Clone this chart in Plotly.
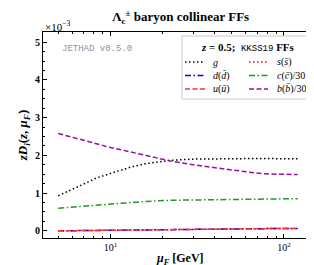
import plotly.graph_objects as go

mu = [5, 6, 7, 8.4, 10, 13.1, 16, 22.2, 30, 39.6, 50, 61.7, 76.6, 95, 120]
g_vals = [0.93, 1.09, 1.24, 1.41, 1.52, 1.69, 1.78, 1.87, 1.90, 1.91, 1.92, 1.92, 1.92, 1.91, 1.91]
s_vals = [0.00, 0.005, 0.01, 0.015, 0.02, 0.025, 0.03, 0.038, 0.043, 0.048, 0.052, 0.055, 0.058, 0.061, 0.063]
d_vals = [0.00, 0.005, 0.01, 0.015, 0.02, 0.025, 0.03, 0.038, 0.043, 0.048, 0.052, 0.055, 0.058, 0.061, 0.063]
u_vals = [0.00, 0.005, 0.01, 0.015, 0.02, 0.025, 0.03, 0.038, 0.043, 0.048, 0.052, 0.055, 0.058, 0.061, 0.063]
c_vals = [0.60, 0.63, 0.66, 0.69, 0.72, 0.76, 0.78, 0.81, 0.82, 0.83, 0.84, 0.845, 0.85, 0.85, 0.853]
b_vals = [2.58, 2.48, 2.39, 2.29, 2.21, 2.09, 2.00, 1.85, 1.75, 1.67, 1.61, 1.56, 1.51, 1.50, 1.49]
x_tick_vals = [10, 100]
x_tick_text = ["10<sup>1</sup>", "10<sup>2</sup>"]
y_tick_vals = [0, 1, 2, 3, 4, 5]

DOT = "1.5px,2.5px"
DASH = "5px,2.5px"
DASHDOT = "6px,2.5px,1.5px,2.5px"

series = [
    ("<i>g</i>", g_vals, "black", DOT),
    ("<i>s</i>(<i>s̄</i>)", s_vals, "red", DOT),
    ("<i>d</i>(<i>d̄</i>)", d_vals, "blue", DASHDOT),
    ("<i>c</i>(<i>c̄</i>)/30", c_vals, "#1f9a1f", DASHDOT),
    ("<i>u</i>(<i>ū</i>)", u_vals, "#ff3030", DASH),
    ("<i>b</i>(<i>b̄</i>)/30", b_vals, "#9a109a", DASH),
]

SERIF = "Liberation Serif"
fig = go.Figure()
for name, vals, col, dash in series:
    fig.add_trace(go.Scatter(x=mu, y=vals, mode="lines", name=name,
                             line=dict(color=col, dash=dash, width=1.5)))

W, H = 314, 265
ML, MR, MT, MB = 35, 7, 24, 35
PW, PH = W - ML - MR, H - MT - MB


def px_x(px):
    return (px - ML) / PW


def px_y(py):
    return (H - MB - py) / PH


fig.update_layout(
    width=W, height=H,
    margin=dict(l=ML, r=MR, t=MT, b=MB),
    plot_bgcolor="white", paper_bgcolor="white",
    font=dict(family=SERIF, size=10, color="black"),
    title=dict(text="<b>Λ<sub>c</sub><sup>±</sup> baryon collinear FFs</b>",
               xref="container", x=0.55, xanchor="center", y=0.985, yanchor="top",
               font=dict(family=SERIF, size=13)),
    showlegend=False,
)

fig.update_xaxes(
    type="log", range=[0.611, 2.179],
    tickmode="array", tickvals=x_tick_vals, ticktext=x_tick_text,
    ticks="inside", ticklen=4, tickcolor="black",
    showline=True, linecolor="black", linewidth=1, mirror="allticks",
    showgrid=False, zeroline=False,
    minor=dict(tickmode="array",
               tickvals=[5, 6, 7, 8, 9, 20, 30, 40, 50, 60, 70, 80, 90, 150],
               ticks="inside", ticklen=2, tickcolor="black", showgrid=False),
    tickfont=dict(family=SERIF, size=10),
)
fig.update_yaxes(
    range=[-0.19, 5.27], tickmode="array", tickvals=y_tick_vals,
    ticktext=["<b>%d</b>" % v for v in y_tick_vals],
    ticks="inside", ticklen=4, tickcolor="black",
    showline=True, linecolor="black", linewidth=1, mirror="allticks",
    showgrid=False, zeroline=False,
    minor=dict(dtick=0.25, ticks="inside", ticklen=2, tickcolor="black", showgrid=False),
    title=dict(text="<b><i>zD<sub>i</sub></i>(<i>z</i>, <i>μ<sub>F</sub></i>)</b>",
               font=dict(family=SERIF, size=13), standoff=4),
    tickfont=dict(family=SERIF, size=10),
)

# x-axis title
fig.add_annotation(text="<b><i>μ<sub>F</sub></i> [GeV]</b>", xref="paper", yref="paper",
                   x=px_x(172), y=px_y(251), xanchor="center", yanchor="middle",
                   showarrow=False, font=dict(family=SERIF, size=12))
fig.add_annotation(text="×10<sup>−3</sup>", xref="paper", yref="paper", x=0, y=1,
                   xanchor="left", yanchor="bottom", showarrow=False,
                   font=dict(family=SERIF, size=11), yshift=-3)
fig.add_annotation(text="JETHAD v0.5.0", xref="paper", yref="paper", x=px_x(52), y=px_y(41),
                   xanchor="left", yanchor="middle", showarrow=False,
                   font=dict(family="Liberation Mono", size=9, color="#909090"))

# legend (drawn manually to match the compact two-column layout)
fig.add_shape(type="rect", xref="paper", yref="paper",
              x0=px_x(174), x1=px_x(304), y0=px_y(91), y1=px_y(28),
              line=dict(color="#cccccc", width=1), fillcolor="rgba(255,255,255,0.85)", layer="above")
fig.add_annotation(text="<b><i>z</i> = 0.5;</b>  <span style='font-family:Liberation Mono;font-size:9px'>KKSS19</span> <b>FFs</b>",
                   xref="paper", yref="paper", x=px_x(240), y=px_y(40), xanchor="center",
                   yanchor="middle", showarrow=False, font=dict(family=SERIF, size=11))
rows = [54, 67.5, 81]
cols = [(177, 197, 203), (241, 260, 267)]
for i, (name, vals, col, dash) in enumerate(series):
    r, c = divmod(i, 2)
    x0, x1, xt = cols[c]
    yy = px_y(rows[r])
    fig.add_shape(type="line", xref="paper", yref="paper", x0=px_x(x0), x1=px_x(x1),
                  y0=yy, y1=yy, line=dict(color=col, dash=dash, width=1.5), layer="above")
    fig.add_annotation(text=name, xref="paper", yref="paper", x=px_x(xt), y=yy,
                       xanchor="left", yanchor="middle", showarrow=False,
                       font=dict(family=SERIF, size=10))

fig.write_html("out.html")
